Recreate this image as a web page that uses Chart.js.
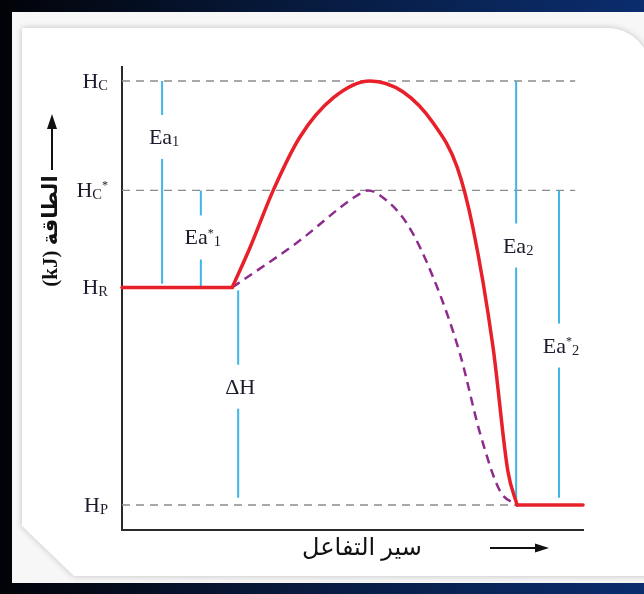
<!DOCTYPE html>
<html>
<head>
<meta charset="utf-8">
<script src="https://cdn.jsdelivr.net/npm/chart.js@4.4.1/dist/chart.umd.min.js"></script>
<style>
  body { margin:0; width:644px; height:594px; overflow:hidden; position:relative;
         background: linear-gradient(90deg, #020308 0%, #071a3d 45%, #0b2d6e 100%); }
  #panel { position:absolute; left:12px; top:12px; width:632px; height:571px; background:#f7f7f7; }
  #wrap { position:absolute; left:22px; top:28px; width:628px; height:548px;
          filter: drop-shadow(0 0 3px rgba(0,0,0,0.22)); }
  #card { width:100%; height:100%; background:#fff; border-top-right-radius:42px;
          clip-path: polygon(0 0, 100% 0, 100% 100%, 52px 100%, 0 calc(100% - 50px)); }
  #c { position:absolute; left:0; top:0; }
</style>
</head>
<body>
<div id="panel"></div>
<div id="wrap"><div id="card"></div></div>
<canvas id="c" width="644" height="594"></canvas>
<script>
// energy levels (kJ, relative units)
const levelKeys = ['H_C', 'H_C^*', 'H_R', 'H_P'];
const levelValues = [100, 74.2, 51.3, 0];
const guideEnd = [98.3, 98.3, null, 85.7];

// uncatalysed path (red): flat, hump, flat
const pathX = [0, 23.9, 27.8, 32.8, 38.6, 45.8, 53.8, 61.0, 67.5, 72.7, 76.1, 80.5, 83.7, 85.7, 100];
const pathY = [51.3, 51.3, 60.8, 74.2, 86.8, 96.0, 100, 97.4, 90.1, 79.7, 65.5, 37.1, 8.0, 0, 0];

// catalysed path (purple, dashed)
const catX = [23.9, 38.0, 51.0, 53.4, 56.0, 61.8, 67.5, 73.3, 77.7, 82.0, 85.7];
const catY = [51.3, 61.9, 73.0, 74.2, 73.0, 66.4, 53.7, 35.7, 16.8, 3.3, 0];

// blue energy markers
const markerNames = ['Ea_1', 'Ea^*_1', 'ΔH', 'Ea_2', 'Ea^*_2'];
const markerX = [8.7, 17.1, 25.2, 85.5, 94.8];
const markerTop = [100, 74.2, 50.6, 100, 74.2];
const markerBottom = [52.2, 51.3, 1.7, 0, 1.7];
const markerLabelY = [86.8, 63.1, 27.9, 61.2, 37.6];

const yTitle = '(kJ) الطاقة';
const xTitle = 'سير التفاعل';

const pts = (xs, ys) => xs.map((v, i) => ({x: v, y: ys[i]}));

var redPts = pts(pathX, pathY);
var datasets = [];
// the red path is split so the flat parts stay straight
[redPts.slice(0, 2), redPts.slice(1, -1), redPts.slice(-2)].forEach(function (part, k) {
  datasets.push({
    data: part, borderColor: '#e8202a', borderWidth: 3.5,
    cubicInterpolationMode: 'monotone', pointRadius: 0, clip: false, borderCapStyle: 'round'
  });
});
datasets.push({
  data: pts(catX, catY), borderColor: '#8e2c8e', borderWidth: 2.5, borderDash: [9, 6],
  cubicInterpolationMode: 'monotone', pointRadius: 0
});
for (let i = 0; i < markerX.length; i++) {
  datasets.push({
    data: [{x: markerX[i], y: markerTop[i]}, {x: markerX[i], y: markerBottom[i]}],
    borderColor: '#3db5e6', borderWidth: 2, pointRadius: 0
  });
}
for (let i = 0; i < levelValues.length; i++) {
  if (guideEnd[i] === null) continue;
  datasets.push({
    data: [{x: 0, y: levelValues[i]}, {x: guideEnd[i], y: levelValues[i]}],
    borderColor: '#8c8c8c', borderWidth: 1.3, borderDash: [8, 6], pointRadius: 0
  });
}

// draws text like 'Ea^*_1' : _ = small subscript, ^ = small raised
function drawRich(ctx, spec, x, y, size, align) {
  var parts = [];
  for (let i = 0; i < spec.length; i++) {
    const ch = spec[i];
    if (ch === '_') parts.push({t: spec[++i], s: size * 0.66, dy: 2});
    else if (ch === '^') parts.push({t: spec[++i], s: size * 0.55, dy: -size * 0.36});
    else parts.push({t: ch, s: size, dy: 0});
  }
  var total = 0;
  parts.forEach(p => { ctx.font = p.s + 'px "Liberation Serif"'; p.w = ctx.measureText(p.t).width; total += p.w; });
  var cx = align === 'right' ? x - total : (align === 'center' ? x - total / 2 : x);
  ctx.textAlign = 'left';
  ctx.textBaseline = 'alphabetic';
  parts.forEach(p => { ctx.font = p.s + 'px "Liberation Serif"'; ctx.fillText(p.t, cx, y + p.dy); cx += p.w; });
}

const textPlugin = {
  id: 'texts',
  afterDatasetsDraw(chart) {
    const ctx = chart.ctx, a = chart.chartArea;
    const xs = chart.scales.x, ys = chart.scales.y;
    ctx.save();
    ctx.fillStyle = '#1c1c2c';
    // level names on the left
    levelKeys.forEach((k, i) => {
      drawRich(ctx, k, a.left - 14, ys.getPixelForValue(levelValues[i]) + 7, 22, 'right');
    });
    // marker labels, clearing the blue line behind them
    markerNames.forEach((n, i) => {
      const px = xs.getPixelForValue(markerX[i]);
      const py = ys.getPixelForValue(markerLabelY[i]);
      ctx.fillStyle = '#fff';
      ctx.fillRect(px - 3, py - 22, 6, 44);
      ctx.fillStyle = '#1c1c2c';
      drawRich(ctx, n, px + 2, py + 7, 22, 'center');
    });
    ctx.fillStyle = '#111';
    ctx.strokeStyle = '#111';
    ctx.lineWidth = 2;
    // y title + arrow
    const tx = a.left - 70;
    ctx.save();
    ctx.translate(tx, a.top + 164);
    ctx.rotate(-Math.PI / 2);
    ctx.font = 'bold 21px "Liberation Serif", "DejaVu Sans"';
    ctx.textAlign = 'center';
    ctx.textBaseline = 'middle';
    ctx.fillText(yTitle, 0, 0);
    ctx.restore();
    ctx.beginPath();
    ctx.moveTo(tx, a.top + 103); ctx.lineTo(tx, a.top + 58); ctx.stroke();
    ctx.beginPath();
    ctx.moveTo(tx, a.top + 47); ctx.lineTo(tx - 5, a.top + 62); ctx.lineTo(tx + 5, a.top + 62); ctx.closePath(); ctx.fill();
    // x title + arrow
    ctx.font = '24px "Liberation Serif", "DejaVu Sans"';
    ctx.textAlign = 'center';
    ctx.textBaseline = 'alphabetic';
    ctx.fillText(xTitle, 362, a.bottom + 25);
    const ay = a.bottom + 18;
    ctx.beginPath();
    ctx.moveTo(a.right - 93, ay); ctx.lineTo(a.right - 44, ay); ctx.stroke();
    ctx.beginPath();
    ctx.moveTo(a.right - 34, ay); ctx.lineTo(a.right - 48, ay - 4.5); ctx.lineTo(a.right - 48, ay + 4.5); ctx.closePath(); ctx.fill();
    ctx.restore();
  }
};

new Chart(document.getElementById('c'), {
  type: 'line',
  data: { datasets: datasets },
  options: {
    responsive: false,
    animation: false,
    devicePixelRatio: 1,
    layout: { padding: { left: 114, right: 61, top: 67, bottom: 56 } },
    plugins: { legend: { display: false }, tooltip: { enabled: false } },
    scales: {
      x: { type: 'linear', min: 0, max: 100, grid: { display: false }, ticks: { display: false },
           border: { display: true, color: '#2a2a2a', width: 2 } },
      y: { type: 'linear', min: -5.9, max: 103.3, grid: { display: false }, ticks: { display: false },
           border: { display: true, color: '#2a2a2a', width: 2 } }
    }
  },
  plugins: [textPlugin]
});
</script>
</body>
</html>
